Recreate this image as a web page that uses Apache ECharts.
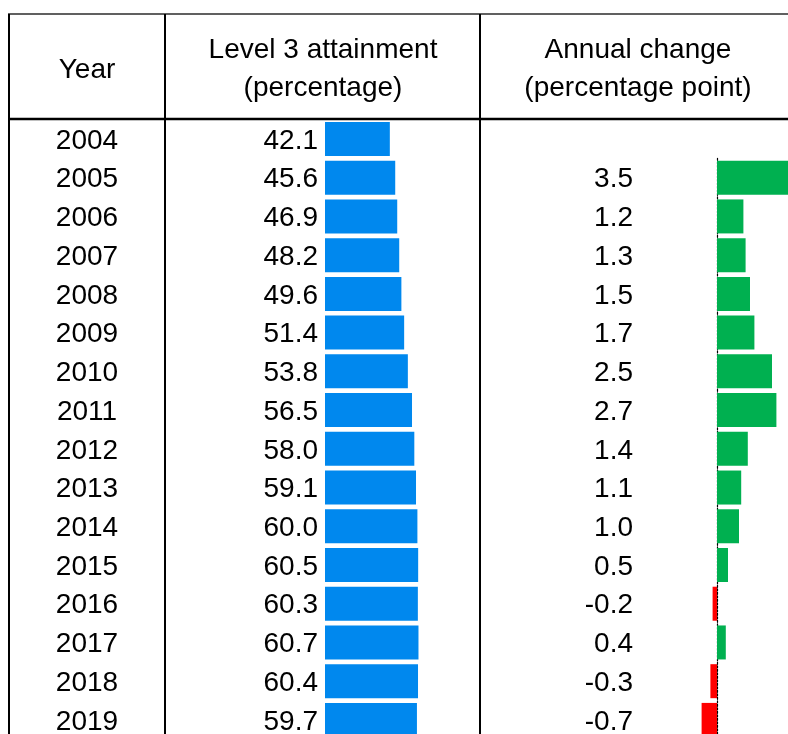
<!DOCTYPE html>
<html>
<head>
<meta charset="utf-8">
<script src="https://cdn.jsdelivr.net/npm/echarts@6/dist/echarts.min.js"></script>
<style>
html,body{margin:0;padding:0;background:#fff;}
#chart{width:788px;height:734px;}
</style>
</head>
<body>
<div id="chart"></div>
<script>
var years = ['2004','2005','2006','2007','2008','2009','2010','2011','2012','2013','2014','2015','2016','2017','2018','2019'];
var attainment = [42.1,45.6,46.9,48.2,49.6,51.4,53.8,56.5,58.0,59.1,60.0,60.5,60.3,60.7,60.4,59.7];
var changes = [null,3.5,1.2,1.3,1.5,1.7,2.5,2.7,1.4,1.1,1.0,0.5,-0.2,0.4,-0.3,-0.7];
var headerYear = 'Year';
var headerLevel = ['Level 3 attainment','(percentage)'];
var headerChange = ['Annual change','(percentage point)'];

var FONT = 'Liberation Sans, Arial, sans-serif';
var FS = 28;
var ROW = 38.73;
var TOP = 119.6;

var chYears = years.slice(1);
var chVals = changes.slice(1);

var richDown = {a: {fontSize: FS, fontFamily: FONT, color: '#000', padding: [4, 0, 0, 0]}};

var chart = echarts.init(document.getElementById('chart'));
var lineStyle = function(c){ return {stroke: c || '#000', lineWidth: 2}; };
var option = {
  animation: false,
  backgroundColor: '#fff',
  grid: [
    {left: 325, top: TOP, width: 154, height: ROW * years.length, outerBoundsMode: 'none', containLabel: false},
    {left: 673, top: TOP + ROW, width: 132, height: ROW * chYears.length, outerBoundsMode: 'none', containLabel: false}
  ],
  xAxis: [
    {gridIndex: 0, type: 'value', min: 0, max: 100, show: false},
    {gridIndex: 1, type: 'value', min: -2, max: 4, show: false}
  ],
  yAxis: [
    {gridIndex: 0, type: 'category', data: years, inverse: true,
     axisLine: {show: false}, axisTick: {show: false}, splitLine: {show: false},
     axisLabel: {align: 'center', margin: 238, fontSize: FS, fontFamily: FONT, color: '#000', rich: richDown,
       formatter: function(v){ return '{a|' + v + '}'; }}},
    {gridIndex: 1, type: 'category', data: chYears, inverse: true,
     axisLine: {show: true, onZero: true, lineStyle: {color: '#000', width: 1.2, type: [2, 1.5]}},
     axisTick: {show: false}, splitLine: {show: false},
     axisLabel: {margin: 40, fontSize: FS, fontFamily: FONT, color: '#000', rich: richDown,
       formatter: function(v, i){ var c = chVals[i]; return c == null ? '' : '{a|' + c.toFixed(1) + '}'; }}}
  ],
  series: [
    {type: 'bar', xAxisIndex: 0, yAxisIndex: 0, data: attainment, barWidth: 34,
     itemStyle: {color: '#0088EE'},
     label: {show: true, position: 'left', distance: 7, offset: [0, 2], fontSize: FS, fontFamily: FONT, color: '#000',
       formatter: function(p){ return p.value.toFixed(1); }}},
    {type: 'bar', xAxisIndex: 1, yAxisIndex: 1, barWidth: 34,
     data: chVals.map(function(v){ return {value: v, itemStyle: {color: v < 0 ? '#FF0000' : '#00B050'}}; }),
     z: 1}
  ],
  graphic: [
    {type: 'line', shape: {x1: 8, y1: 14, x2: 788, y2: 14}, style: {stroke: '#606060', lineWidth: 2}},
    {type: 'line', shape: {x1: 9, y1: 14, x2: 9, y2: 734}, style: lineStyle()},
    {type: 'line', shape: {x1: 165, y1: 14, x2: 165, y2: 734}, style: lineStyle()},
    {type: 'line', shape: {x1: 480, y1: 14, x2: 480, y2: 734}, style: lineStyle()},
    {type: 'line', shape: {x1: 8, y1: 119, x2: 788, y2: 119}, style: {stroke: '#000', lineWidth: 2.5}},
    {type: 'text', x: 87, y: 70, style: {text: headerYear, font: FS + 'px ' + FONT, fill: '#000', align: 'center', verticalAlign: 'middle'}},
    {type: 'text', x: 323, y: 50, style: {text: headerLevel[0], font: FS + 'px ' + FONT, fill: '#000', align: 'center', verticalAlign: 'middle'}},
    {type: 'text', x: 323, y: 88, style: {text: headerLevel[1], font: FS + 'px ' + FONT, fill: '#000', align: 'center', verticalAlign: 'middle'}},
    {type: 'text', x: 638, y: 50, style: {text: headerChange[0], font: FS + 'px ' + FONT, fill: '#000', align: 'center', verticalAlign: 'middle'}},
    {type: 'text', x: 638, y: 88, style: {text: headerChange[1], font: FS + 'px ' + FONT, fill: '#000', align: 'center', verticalAlign: 'middle'}}
  ]
};
chart.setOption(option);
</script>
</body>
</html>
